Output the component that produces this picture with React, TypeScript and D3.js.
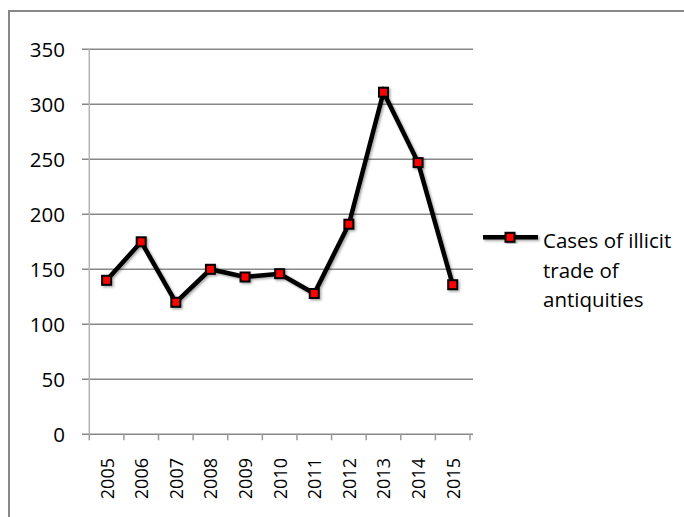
import React from "react";
import * as d3 from "d3";

const years = ["2005","2006","2007","2008","2009","2010","2011","2012","2013","2014","2015"];
const cases = [140, 175, 120, 150, 143, 146, 128, 191, 311, 247, 136];
const yTicks = [0, 50, 100, 150, 200, 250, 300, 350];
const seriesName = ["Cases of illicit", "trade of", "antiquities"];

const W = 684, H = 517;
const FONT = "'Open Sans', 'Noto Sans', sans-serif";

export default function App() {
  const x = d3.scaleBand<string>().domain(years).range([89.3, 470]);
  const y = d3.scaleLinear().domain([0, 350]).range([434.3, 49.3]);
  const line = d3.line<number>()
    .x((_, i) => (x(years[i]) as number) + x.bandwidth() / 2)
    .y((d) => y(d));
  const tickXs = years.map((yr) => x(yr) as number).concat([x.range()[1]]);
  const ms = 9;

  return (
    <svg width={W} height={H} style={{ position: "absolute", left: 0, top: 0, background: "#fff" }}>
      <defs>
        <filter id="sh" x="-20%" y="-20%" width="140%" height="140%">
          <feDropShadow dx="1.5" dy="1.5" stdDeviation="1.2" floodColor="#000" floodOpacity="0.35" />
        </filter>
      </defs>
      <path d={`M9,${H} V11 H${W}`} fill="none" stroke="#878787" strokeWidth={2} />
      {/* gridlines */}
      {yTicks.map((t) => (
        <line key={t} x1={82} x2={473} y1={y(t)} y2={y(t)} stroke="#878787" strokeWidth={1.5} />
      ))}
      {/* y axis */}
      <line x1={89.3} x2={89.3} y1={y(350)} y2={y(0)} stroke="#b3b3b3" strokeWidth={1.5} />
      {/* x ticks */}
      {tickXs.map((tx, i) => (
        <line key={i} x1={tx} x2={tx} y1={y(0)} y2={y(0) + 6} stroke="#999" strokeWidth={1.5} />
      ))}
      {/* y labels */}
      {yTicks.map((t) => (
        <text key={t} x={65} y={y(t)} textAnchor="end" dominantBaseline="central"
          fontFamily={FONT} fontSize={20.5} fill="#000">{t}</text>
      ))}
      {/* x labels */}
      {years.map((yr) => {
        const cx = (x(yr) as number) + x.bandwidth() / 2;
        return (
          <text key={yr} transform={`translate(${cx},458) rotate(-90)`} textAnchor="end"
            dominantBaseline="central" fontFamily={FONT} fontSize={18} fill="#000">{yr}</text>
        );
      })}
      {/* series */}
      <g filter="url(#sh)">
        <path d={line(cases) || ""} fill="none" stroke="#000" strokeWidth={4.5} strokeLinejoin="miter" />
        {cases.map((v, i) => {
          const cx = (x(years[i]) as number) + x.bandwidth() / 2;
          return (
            <rect key={i} x={cx - ms / 2} y={y(v) - ms / 2} width={ms} height={ms}
              fill="#ff0000" stroke="#000" strokeWidth={2} />
          );
        })}
      </g>
      {/* legend */}
      <g filter="url(#sh)">
        <line x1={483} x2={538} y1={237.3} y2={237.3} stroke="#000" strokeWidth={4.5} />
        <rect x={510 - ms / 2} y={237.3 - ms / 2} width={ms} height={ms} fill="#ff0000" stroke="#000" strokeWidth={2} />
      </g>
      {seriesName.map((s, i) => (
        <text key={i} x={543} y={248 + i * 29.5} fontFamily={FONT} fontSize={20.5} fill="#000">{s}</text>
      ))}
    </svg>
  );
}
